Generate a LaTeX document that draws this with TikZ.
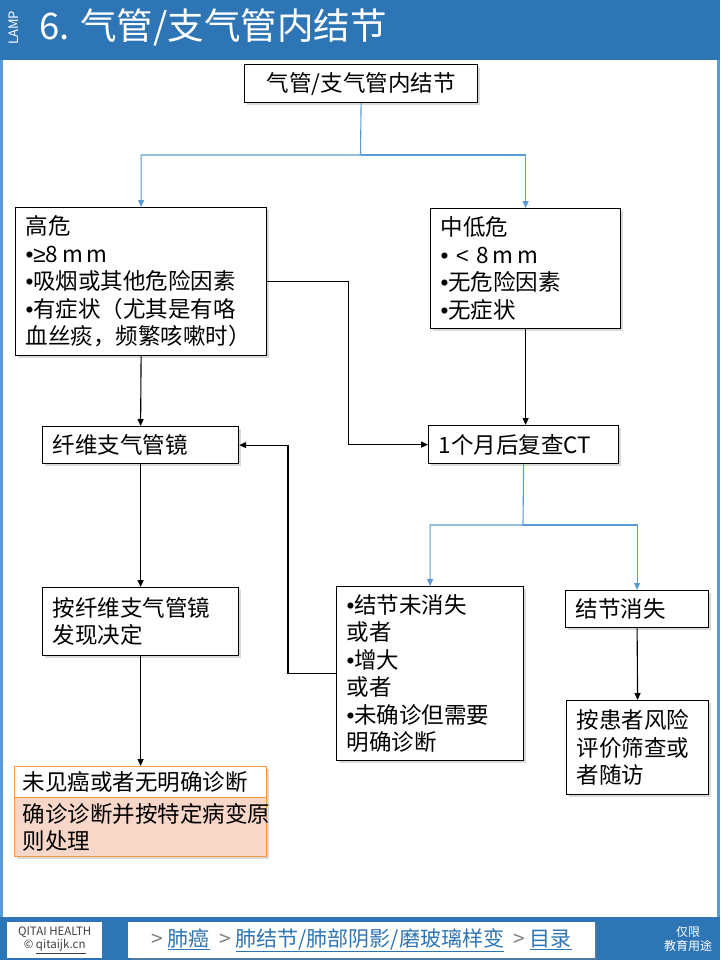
\documentclass[tikz,border=0pt]{standalone}
\usepackage{fontspec}
\setmainfont{Noto Sans CJK SC}
\newfontfamily\bulletfont{Liberation Sans}
\usetikzlibrary{arrows.meta,shadows}

\definecolor{headblue}{RGB}{46,117,182}
\definecolor{lineblue}{RGB}{91,155,213}
\definecolor{orangeln}{RGB}{247,150,70}
\definecolor{pinkfill}{RGB}{248,214,200}

\newcommand{\bulletmark}{{\bulletfont\char"2022}}

\begin{document}
\begin{tikzpicture}[x=1pt,y=-1pt,
  box/.style={draw,line width=1.2pt,fill=white,anchor=north west,inner xsep=10pt,inner ysep=0pt,
    align=left,font=\fontsize{22.5}{27.5}\selectfont,
    drop shadow={opacity=0.3,shadow xshift=2.5pt,shadow yshift=-2.5pt}},
  con/.style={line width=1.1pt,-{Triangle[length=7pt,width=6pt]}},
  bcon/.style={con,draw=lineblue}]
\useasboundingbox (0,0) rectangle (720,960);

% header and frame
\draw[lineblue,line width=3pt] (1.5,0) -- (1.5,960) (718.5,0) -- (718.5,960);
\fill[headblue] (0,0) rectangle (720,60);
\node[text=white,rotate=90,inner sep=0pt,font=\fontsize{13}{14}\selectfont] (lamp) at (13.5,28) {LAMP};
\node[text=white,anchor=west,inner sep=0pt,font=\fontsize{36.5}{42}\selectfont] (title) at (39,27) {6. 气管/支气管内结节};

% boxes
\node[box,align=center,minimum width=233pt,minimum height=38pt] (top) at (244,64) {气管/支气管内结节};
\node[box,text width=231pt,minimum height=148pt] (hi) at (15,207)
  {高危\\\bulletmark{\bulletfont≥}8\,m\,m\\\bulletmark 吸烟或其他危险因素\\\bulletmark 有症状（尤其是有咯\\血丝痰，频繁咳嗽时）};
\node[box,text width=170pt,minimum height=120pt] (lo) at (430,208)
  {中低危\\\bulletmark\ {\bulletfont<}\ 8\,m\,m\\\bulletmark 无危险因素\\\bulletmark 无症状};
\node[box,text width=176pt,minimum height=37pt] (fb) at (42,426) {纤维支气管镜};
\node[box,text width=170pt,minimum height=38pt] (ct) at (428,425) {1个月后复查CT};
\node[box,text width=176pt,minimum height=68pt] (fbd) at (42,587) {按纤维支气管镜\\发现决定};
\node[box,text width=167pt,minimum height=174pt] (keep) at (336,586)
  {\bulletmark 结节未消失\\或者\\\bulletmark 增大\\或者\\\bulletmark 未确诊但需要\\明确诊断};
\node[box,text width=123pt,minimum height=37pt] (gone) at (565,590) {结节消失};
\node[box,text width=122pt,minimum height=94pt] (fu) at (566,700) {按患者风险\\评价筛查或\\者随访};
\node[box,draw=orangeln,inner xsep=8pt,text width=236pt,minimum height=31pt] (res1) at (14,766) {未见癌或者无明确诊断};
\node[box,draw=orangeln,fill=pinkfill,inner xsep=8pt,text width=236pt,minimum height=59pt] (res2) at (14,797)
  {确诊诊断并按特定病变原\\则处理};

% connectors
\coordinate (fork) at (360.5,155);
\draw[bcon] (top.south) -- (fork) -| (hi.north);
\draw[bcon] (fork) -| (lo.north);
\draw[con] (hi.east) -- ++(81,0) |- (ct.west);
\draw[con] (lo.south) -- (lo.south |- ct.north);
\draw[con] (hi.south) -- (fb.north);
\draw[con] (fb.south) -- (fbd.north);
\draw[con] (fbd.south) -- (res1.north);
\draw[con] (keep.west) -- ++(-48,0) |- (fb.east);
\coordinate (fork2) at (523,525);
\draw[bcon] (ct.south) -- (fork2) -| (keep.north);
\draw[bcon] (fork2) -| (gone.north);
\draw[con] (gone.south) -- (fu.north);

% footer
\fill[headblue] (0,917) rectangle (720,960);
\node[fill=white,anchor=north west,minimum width=95pt,minimum height=36pt,inner sep=0pt,align=center,
  text=darkgray,font=\fontsize{11.5}{13}\selectfont] (brand) at (7,922) {QITAI HEALTH\\© \underline{qitaijk.cn}};
\node[fill=white,anchor=north west,minimum width=467pt,minimum height=36pt,inner sep=0pt,
  text=headblue,font=\fontsize{21}{24}\selectfont,
  drop shadow={opacity=0.4,shadow xshift=2pt,shadow yshift=-2pt}] (crumb) at (128,922)
  {\textcolor{gray}{>}\ \underline{肺癌}\ \ \textcolor{gray}{>}\ \underline{肺结节/肺部阴影/磨玻璃样变}\ \ \textcolor{gray}{>}\ \underline{目录}};
\node[text=white,align=center,inner sep=0pt,font=\fontsize{12}{13.5}\selectfont] (edu) at (688,939) {仅限\\教育用途};
\end{tikzpicture}
\end{document}
